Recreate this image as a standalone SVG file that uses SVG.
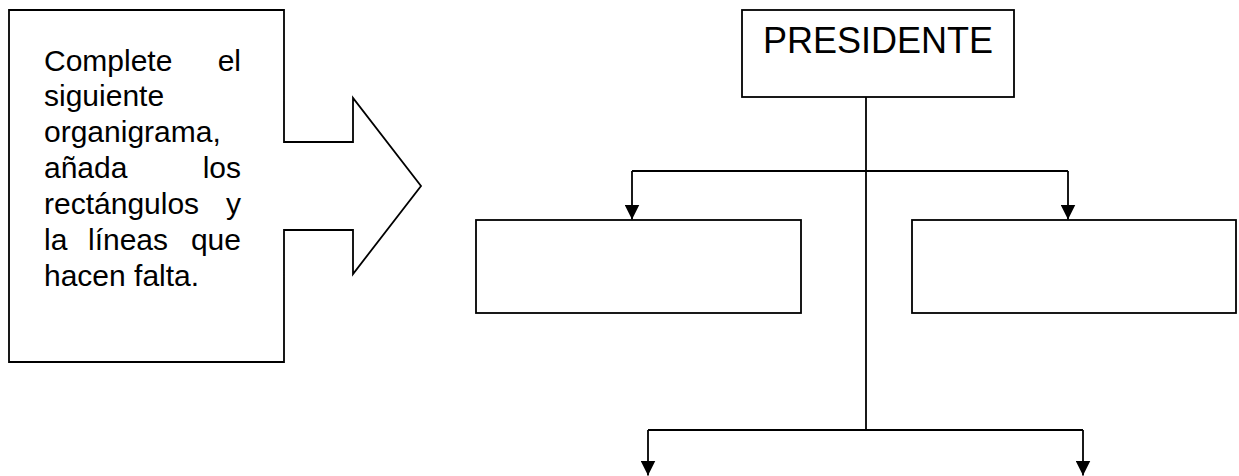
<svg xmlns="http://www.w3.org/2000/svg" width="1239" height="476" viewBox="0 0 1239 476">
  <style>
    .shape { fill: #ffffff; stroke: #000000; stroke-width: 1.8; }
    .wire { fill: none; stroke: #000000; stroke-width: 1.8; }
    .note { font-family: "Liberation Sans", Arial, sans-serif; font-size: 30px; fill: #000000; }
    .title { font-family: "Liberation Sans", Arial, sans-serif; font-size: 36px; fill: #000000; }
  </style>
  <defs>
    <marker id="head" viewBox="0 0 10 10" refX="10" refY="5" markerWidth="15" markerHeight="15" markerUnits="userSpaceOnUse" orient="auto">
      <path d="M0,0 L10,5 L0,10 Z" fill="#000000"/>
    </marker>
  </defs>
  <rect width="1239" height="476" fill="#ffffff"/>

  <!-- instruction callout with right-pointing arrow -->
  <g id="callout">
    <polygon class="shape" points="9,10 284,10 284,142 353,142 353,98 421,186 353,274 353,230 284,230 284,362 9,362"/>
    <text class="note" x="44" y="70.5">Complete</text>
    <text class="note" x="241" y="70.5" text-anchor="end">el</text>
    <text class="note" x="44" y="106.4">siguiente</text>
    <text class="note" x="44" y="142.3">organigrama,</text>
    <text class="note" x="44" y="178.2">añada</text>
    <text class="note" x="241" y="178.2" text-anchor="end">los</text>
    <text class="note" x="44" y="214.1">rectángulos</text>
    <text class="note" x="241" y="214.1" text-anchor="end">y</text>
    <text class="note" x="44" y="250">la</text>
    <text class="note" x="88" y="250">líneas</text>
    <text class="note" x="241" y="250" text-anchor="end">que</text>
    <text class="note" x="44" y="286">hacen falta.</text>
  </g>

  <!-- org chart boxes -->
  <g id="presidente">
    <rect class="shape" x="742" y="10" width="272" height="87"/>
    <text class="title" x="763" y="53">PRESIDENTE</text>
  </g>
  <g id="box-left">
    <rect class="shape" x="476" y="220" width="325" height="93"/>
  </g>
  <g id="box-right">
    <rect class="shape" x="912" y="220" width="324" height="93"/>
  </g>

  <!-- connectors: trunk, upper branch, lower branch -->
  <g id="connectors">
    <line class="wire" x1="866" y1="97" x2="866" y2="430"/>
    <line class="wire" x1="632" y1="171" x2="1068" y2="171"/>
    <line class="wire" x1="632" y1="171" x2="632" y2="219.5" marker-end="url(#head)"/>
    <line class="wire" x1="1068" y1="171" x2="1068" y2="219.5" marker-end="url(#head)"/>
    <line class="wire" x1="648" y1="430" x2="1083" y2="430"/>
    <line class="wire" x1="648" y1="430" x2="648" y2="475.5" marker-end="url(#head)"/>
    <line class="wire" x1="1083" y1="430" x2="1083" y2="475.5" marker-end="url(#head)"/>
  </g>
</svg>
